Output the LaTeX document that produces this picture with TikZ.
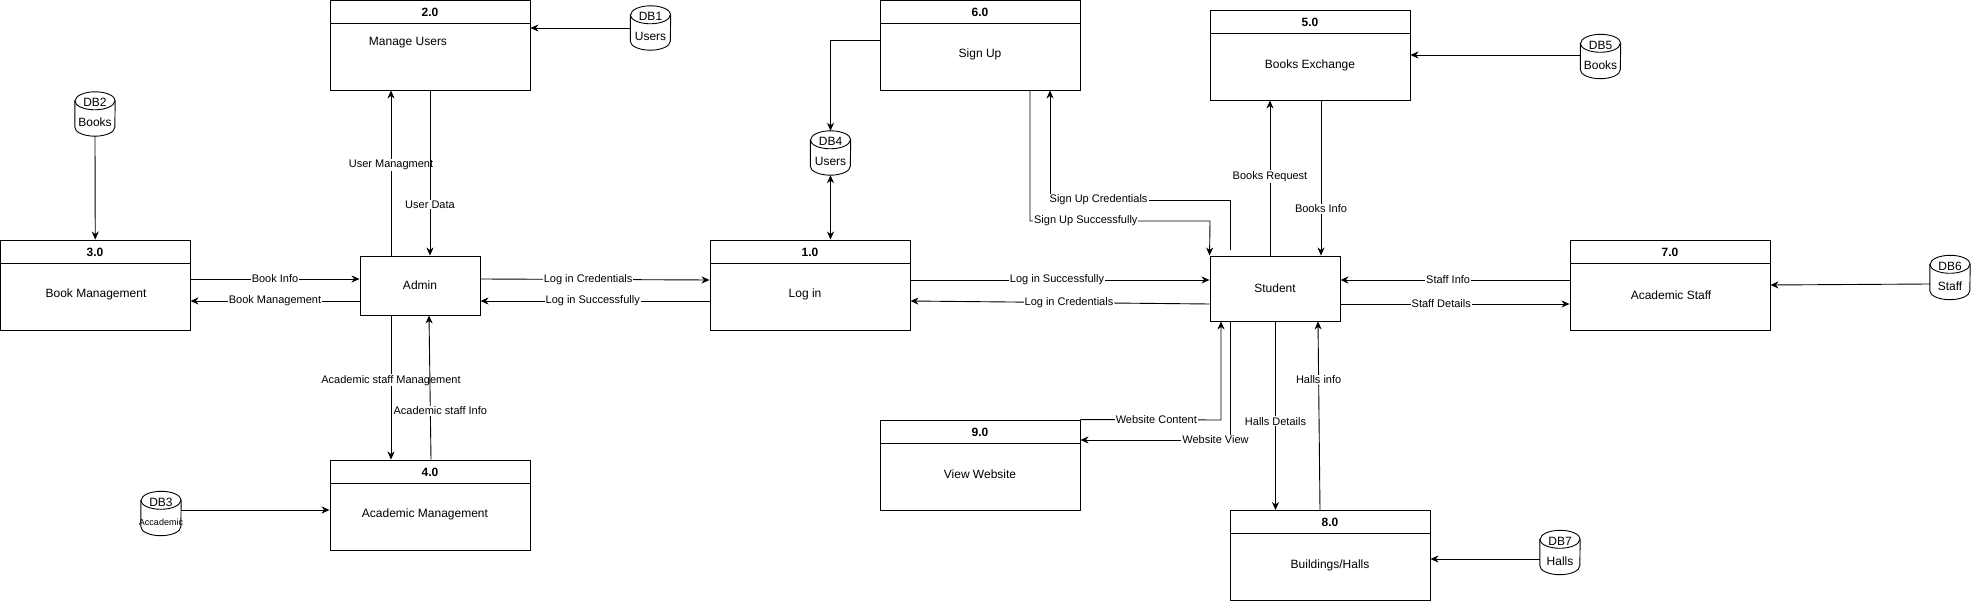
\documentclass[tikz,border=0pt]{standalone}
\usepackage{fontspec}
\setmainfont{Liberation Sans}
\usetikzlibrary{arrows.meta}
\tikzset{
 pbox/.style={draw, line width=0.9pt, inner sep=0pt, rectangle},
 hdr/.style={font=\fontsize{12}{14}\selectfont\bfseries, inner sep=0pt},
 body/.style={font=\fontsize{12}{14}\selectfont, inner sep=0pt},
 lbl/.style={font=\fontsize{11}{13}\selectfont, fill=white, inner sep=1pt},
 flow/.style={draw, line width=0.9pt, -{Stealth[length=8pt,width=7pt,inset=2.5pt]}},
 dflow/.style={draw, line width=0.9pt, {Stealth[length=8pt,width=7pt,inset=2.5pt]}-{Stealth[length=8pt,width=7pt,inset=2.5pt]}},
 dbtext/.style={font=\fontsize{12}{14}\selectfont, inner sep=0pt},
}
\newcommand\dbstore[5]{%
 \node[inner sep=0pt, minimum width=40pt, minimum height=44pt] (#1) at (#2,#3) {};
 \draw[line width=0.9pt, fill=white] ([yshift=-9pt]#1.north west) -- ([yshift=9pt]#1.south west)
   arc[start angle=180, end angle=360, x radius=20pt, y radius=9pt] -- ([yshift=-9pt]#1.north east)
   arc[start angle=0, end angle=180, x radius=20pt, y radius=9pt] -- cycle;
 \draw[line width=0.9pt] ([yshift=-9pt]#1.north west) arc[start angle=180, end angle=360, x radius=20pt, y radius=9pt];
 \node[dbtext] (#1t) at ([yshift=11.5pt]#1.center) {#4};
 \node[dbtext] (#1b) at ([yshift=-8.5pt]#1.center) {#5};
}
\begin{document}
\begin{tikzpicture}[x=1pt,y=-1pt]
\fill[white] (0,0) rectangle (1971,601);
\useasboundingbox (0,0) rectangle (1971,601);

% ---------- process boxes ----------
% 2.0
\node[pbox, minimum width=200pt, minimum height=89.5pt] (p2) at (430,45.25) {};
\draw[line width=0.9pt] (p2.west |- 0,23) -- (p2.east |- 0,23);
\node[hdr] (p2h) at (430,12) {2.0};
\node[body] (p2t) at (408,43) {Manage Users};
% 3.0
\node[pbox, minimum width=189.5pt, minimum height=90pt] (p3) at (95.25,285) {};
\draw[line width=0.9pt] (p3.west |- 0,263) -- (p3.east |- 0,263);
\node[hdr] (p3h) at (95,252) {3.0};
\node[body] (p3t) at (96,294) {Book Management};
% 1.0
\node[pbox, minimum width=200pt, minimum height=90pt] (p1) at (810,285) {};
\draw[line width=0.9pt] (p1.west |- 0,263) -- (p1.east |- 0,263);
\node[hdr] (p1h) at (810,252) {1.0};
\node[body] (p1t) at (805,294) {Log in};
% 6.0
\node[pbox, minimum width=200pt, minimum height=89.5pt] (p6) at (980,45.25) {};
\draw[line width=0.9pt] (p6.west |- 0,23) -- (p6.east |- 0,23);
\node[hdr] (p6h) at (980,12) {6.0};
\node[body] (p6t) at (980,54) {Sign Up};
% 5.0
\node[pbox, minimum width=200pt, minimum height=90pt] (p5) at (1310,55) {};
\draw[line width=0.9pt] (p5.west |- 0,33) -- (p5.east |- 0,33);
\node[hdr] (p5h) at (1310,22) {5.0};
\node[body] (p5t) at (1310,65) {Books Exchange};
% 7.0
\node[pbox, minimum width=200pt, minimum height=90pt] (p7) at (1670,285) {};
\draw[line width=0.9pt] (p7.west |- 0,263) -- (p7.east |- 0,263);
\node[hdr] (p7h) at (1670,252) {7.0};
\node[body] (p7t) at (1671,295) {Academic Staff};
% 4.0
\node[pbox, minimum width=200pt, minimum height=90pt] (p4) at (430,505) {};
\draw[line width=0.9pt] (p4.west |- 0,483) -- (p4.east |- 0,483);
\node[hdr] (p4h) at (430,472) {4.0};
\node[body] (p4t) at (425,514) {Academic Management};
% 9.0
\node[pbox, minimum width=200pt, minimum height=90pt] (p9) at (980,465) {};
\draw[line width=0.9pt] (p9.west |- 0,443) -- (p9.east |- 0,443);
\node[hdr] (p9h) at (980,432) {9.0};
\node[body] (p9t) at (980,474) {View Website};
% 8.0
\node[pbox, minimum width=200pt, minimum height=89.5pt] (p8) at (1330,555.25) {};
\draw[line width=0.9pt] (p8.west |- 0,533) -- (p8.east |- 0,533);
\node[hdr] (p8h) at (1330,522) {8.0};
\node[body] (p8t) at (1330,565) {Buildings/Halls};
% entities
\node[pbox, minimum width=120pt, minimum height=59pt] (admin) at (420,285.5) {};
\node[body] (admint) at (420,285) {Admin};
\node[pbox, minimum width=130pt, minimum height=65pt] (student) at (1275,288.5) {};
\node[body] (studentt) at (1275,288) {Student};

% ---------- data stores ----------
\dbstore{db1}{650.5}{28}{DB1}{Users}
\dbstore{db2}{95}{114}{DB2}{Books}
\dbstore{db3}{161}{513.5}{DB3}{{\fontsize{9}{10}\selectfont Accademic}}
\dbstore{db4}{830.5}{153}{DB4}{Users}
\dbstore{db5}{1600.5}{56.5}{DB5}{Books}
\dbstore{db6}{1950}{277.5}{DB6}{Staff}
\dbstore{db7}{1560}{552.5}{DB7}{Halls}

% ---------- flows ----------
\path[flow] (db1.west |- 0,28) -- (p2.east |- 0,28);
\path[flow] (db2.south) -- (p3.north);
\path[flow] (p3.east |- 0,279) -- node[lbl] {Book Info} (admin.west |- 0,279);
\path[flow] (admin.west |- 0,301) -- node[lbl] {Book Management} (p3.east |- 0,301);
\path[flow] (admin.north -| 391,0) -- node[lbl,pos=0.55] {User Managment} (p2.south -| 391,0);
\path[flow] (p2.south -| 430,0) -- node[lbl,pos=0.69] {User Data} (admin.north -| 430,0);
\path[flow] (admin.east |- 0,279) -- node[lbl,pos=0.47] {Log in Credentials} (p1.west |- 0,280);
\path[flow] (p1.west |- 0,301) -- node[lbl,pos=0.51] {Log in Successfully} (admin.east |- 0,301);
\path[flow] (admin.south -| 391,0) -- node[lbl,pos=0.45] {Academic staff Management} (p4.north -| 391,0);
\path[flow] (p4.north -| 431,0) -- node[lbl,pos=0.34,xshift=10pt] {Academic staff Info} (admin.south -| 429,0);
\path[flow] (db3.east |- 0,510) -- (p4.west |- 0,510);

\path[flow] (p6.west |- 0,40) -| (db4.north);
\path[dflow] (db4.south) -- (p1.north -| db4.south);
\path[flow] (p1.east |- 0,280) -- node[lbl,pos=0.49] {Log in Successfully} (student.west |- 0,280);
\path[flow] (student.west |- 0,304) -- node[lbl,pos=0.47] {Log in Credentials} (p1.east |- 0,301);
\coordinate (suc1) at (1230,200);
\coordinate (suc2) at (1050,200);
\path[flow, shorten <=6pt] (student.north -| suc1) -- (suc1) -- node[lbl,pos=0.73] {Sign Up Credentials} (suc2) -- (p6.south -| suc2);
\coordinate (sus1) at (1030,221);
\coordinate (sus2) at (1210,221);
\path[flow] (p6.south -| sus1) -- (sus1) -- node[lbl,pos=0.31] {Sign Up Successfully} (sus2) -- (student.north west);
\path[flow] (student.north -| 1270,0) -- node[lbl,pos=0.51] {Books Request} (p5.south -| 1270,0);
\path[flow] (p5.south -| 1321,0) -- node[lbl,pos=0.70] {Books Info} (student.north -| 1321,0);
\path[flow] (db5.west |- 0,55) -- (p5.east |- 0,55);
\path[flow] (p7.west |- 0,280) -- node[lbl,pos=0.53] {Staff Info} (student.east |- 0,280);
\path[flow] (student.east |- 0,304) -- node[lbl,pos=0.44] {Staff Details} (p7.west |- 0,304);
\path[flow] (db6.west |- 0,284) -- (p7.east |- 0,285);
\coordinate (wc1) at (1221,420);
\path[flow] (p9.north east) -- node[lbl,pos=0.54] {Website Content} (wc1) -- (student.south -| wc1);
\coordinate (wv1) at (1230.5,440);
\path[flow] (student.south -| wv1) -- (wv1) -- node[lbl,pos=0.1] {Website View} (p9.east |- wv1);
\path[flow] (student.south -| 1275.5,0) -- node[lbl,pos=0.53] {Halls Details} (p8.north -| 1275.5,0);
\path[flow] (p8.north -| 1320,0) -- node[lbl,pos=0.69] {Halls info} (student.south -| 1318,0);
\path[flow] (db7.west |- 0,559) -- (p8.east |- 0,559);
\end{tikzpicture}
\end{document}
